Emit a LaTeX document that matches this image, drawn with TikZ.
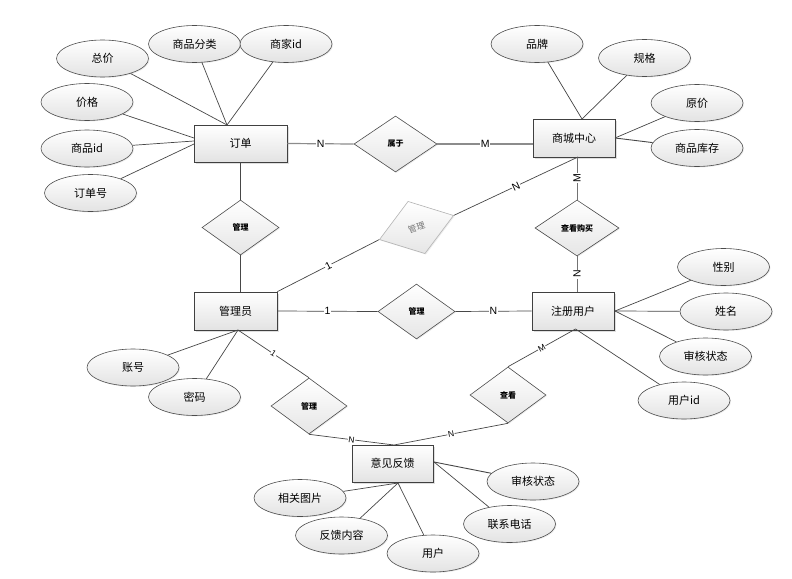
\documentclass[tikz,border=0pt]{standalone}
\usepackage{fontspec}
\setmainfont{Noto Sans CJK SC}
\newfontfamily\lat{Liberation Sans}
\usetikzlibrary{shapes.geometric,shadows}
\begin{document}
\begin{tikzpicture}[x=1pt,y=-1pt,
  ln/.style={draw=black!72,line width=0.7pt},
  entity/.style={rectangle,draw=black!75,line width=0.8pt,top color=white,bottom color=black!11,
     minimum height=37pt,inner sep=0pt,font=\fontsize{11}{12}\selectfont,
     drop shadow={shadow xshift=1.5pt,shadow yshift=-1.5pt,opacity=0.25}},
  attr/.style={ellipse,draw=black!70,line width=0.6pt,top color=white,bottom color=black!11,
     minimum width=92pt,minimum height=37pt,inner sep=0pt,font=\fontsize{11}{12}\selectfont,
     drop shadow={shadow xshift=1pt,shadow yshift=-1pt,opacity=0.15}},
  rel/.style={diamond,draw=black!70,line width=0.6pt,top color=white,bottom color=black!10,
     minimum width=77pt,minimum height=55pt,inner sep=0pt,font=\fontsize{8}{9}\selectfont\bfseries,
     drop shadow={shadow xshift=1pt,shadow yshift=-1pt,opacity=0.15}},
  grel/.style={rel,draw=black!30,text=black!55,font=\fontsize{8.5}{9}\selectfont},
  lbl/.style={fill=white,inner sep=0.6pt,font=\lat\fontsize{10.5}{10.5}\selectfont},
  slbl/.style={lbl,font=\lat\fontsize{8.5}{8.5}\selectfont}]
\useasboundingbox (0,0) rectangle (792,578);
% entities
\node[entity,minimum width=93pt] (dd) at (240.5,143.5) {订单};
\node[entity,minimum width=82pt,minimum height=38pt] (sc) at (574,138) {商城中心};
\node[entity,minimum width=83pt,minimum height=38pt] (gly) at (235.5,311) {管理员};
\node[entity,minimum width=82pt,minimum height=38pt] (zc) at (573,311) {注册用户};
\node[entity,minimum width=81pt] (yj) at (392.5,463.5) {意见反馈};
% relationships
\node[rel,minimum width=83pt,minimum height=56pt] (r1) at (395.5,144) {属于};
\node[rel,minimum width=84pt,minimum height=56pt] (r2) at (577,228) {查看购买};
\node[rel] (r3) at (240.5,227.5) {管理};
\node[grel,minimum width=78pt,rotate=18] (r4) at (416.5,227.5) {管理};
\node[rel] (r5) at (416.5,311.5) {管理};
\node[rel,minimum width=76pt,minimum height=56pt] (r6) at (309,406) {管理};
\node[rel,minimum width=76pt,minimum height=56pt] (r7) at (508,395) {查看};
% attributes
\node[attr] (a1) at (102.5,58.5) {总价};
\node[attr] (a2) at (194.5,44) {商品分类};
\node[attr] (a3) at (286,44) {商家id};
\node[attr] (a4) at (87,102) {价格};
\node[attr] (a5) at (87,148.5) {商品id};
\node[attr] (a6) at (90.5,193) {订单号};
\node[attr] (b1) at (537,44) {品牌};
\node[attr] (b2) at (644.5,58) {规格};
\node[attr] (b3) at (697,103) {原价};
\node[attr] (b4) at (697,148) {商品库存};
\node[attr] (c1) at (723.5,267) {性别};
\node[attr] (c2) at (726,311.5) {姓名};
\node[attr] (c3) at (705.5,356.5) {审核状态};
\node[attr] (c4) at (684,400.5) {用户id};
\node[attr] (d1) at (133,367.5) {账号};
\node[attr] (d2) at (194.5,397) {密码};
\node[attr] (e1) at (300,498) {相关图片};
\node[attr] (e2) at (341.5,535.5) {反馈内容};
\node[attr] (e3) at (433,553.5) {用户};
\node[attr] (e4) at (533,481.5) {审核状态};
\node[attr] (e5) at (509.5,524) {联系电话};
% connection points
\coordinate (ddT) at (227,125);
\coordinate (ddL1) at (194,138);
\coordinate (ddL2) at (194,141);
\coordinate (ddL3) at (194,144);
\coordinate (scT) at (582,119);
\coordinate (scR) at (615,138);
\coordinate (scL) at (533,144);
\coordinate (scB) at (578,157);
\coordinate (scB2) at (577,157);
\coordinate (glyT) at (240.5,292);
\coordinate (glyB) at (238,330);
\coordinate (zcT) at (577,292);
\coordinate (zcR) at (615,311);
\coordinate (zcB) at (575.5,329);
\coordinate (yjT) at (394,445);
\coordinate (yjB) at (398,483);
\coordinate (yjR) at (434,462);
% attribute lines
\draw[ln] (a1) -- (ddT);
\draw[ln] (a2) -- (ddT);
\draw[ln] (a3) -- (ddT);
\draw[ln] (a4) -- (ddL1);
\draw[ln] (a5) -- (ddL2);
\draw[ln] (a6) -- (ddL3);
\draw[ln] (b1) -- (scT);
\draw[ln] (b2) -- (scT);
\draw[ln] (b3) -- (scR);
\draw[ln,line width=0.9pt] (b4) -- (scR);
\draw[ln] (c1) -- (zcR);
\draw[ln] (c2) -- (zcR);
\draw[ln] (c3) -- (zcR);
\draw[ln] (c4) -- (zcB);
\draw[ln] (d1) -- (glyB);
\draw[ln] (d2) -- (glyB);
\draw[ln] (e1) -- (yjB);
\draw[ln] (e2) -- (yjB);
\draw[ln] (e3) -- (yjB);
\draw[ln,line width=0.9pt] (e4) -- (yjR);
\draw[ln] (e5) -- (yjR);
% relationship lines
\draw[ln,draw=black!45,line width=1.2pt] (dd.east) -- node[lbl]{N} (r1.west);
\draw[ln,draw=black!45,line width=1.2pt] (r1.east) -- node[lbl]{M} (scL);
\draw[ln] (dd.south) -- (r3.north);
\draw[ln] (r3.south) -- (glyT);
\draw[ln,draw=black!55,line width=1pt] (scB2) -- node[lbl,rotate=90]{M} (r2.north);
\draw[ln,draw=black!55,line width=1pt] (r2.south) -- node[lbl,rotate=90]{N} (zcT);
\draw[ln] (gly.north east) -- node[lbl,sloped]{1} (r4.west);
\draw[ln] (r4.east) -- node[lbl,sloped]{N} (scB);
\draw[ln] (gly.east) -- node[lbl]{1} (r5.west);
\draw[ln] (r5.east) -- node[lbl]{N} (zc.west);
\draw[ln] (glyB) -- node[slbl,sloped]{1} (r6.north);
\draw[ln] (r6.south) -- node[slbl,sloped]{N} (yjT);
\draw[ln] (zcB) -- node[slbl,sloped]{M} (r7.north);
\draw[ln] (r7.south) -- node[slbl,sloped]{N} (yjT);
\end{tikzpicture}
\end{document}
